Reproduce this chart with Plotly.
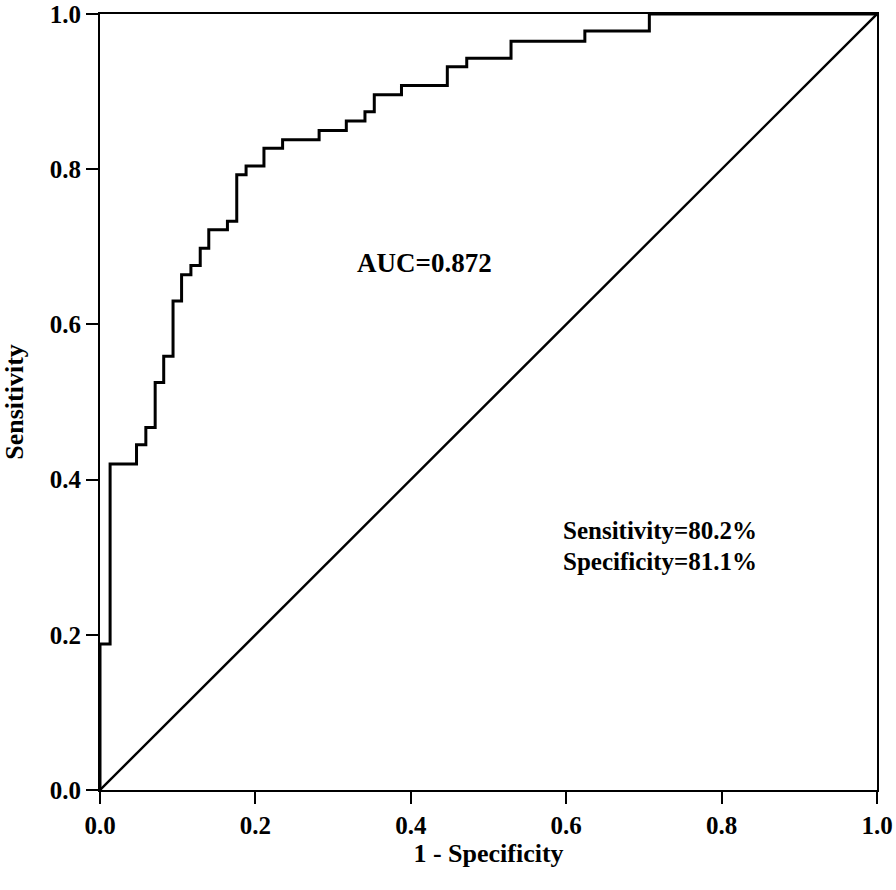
import plotly.graph_objects as go

# ROC staircase corners (1 - specificity, sensitivity)
fpr = [0, 0.013, 0.047, 0.059, 0.071, 0.082, 0.094, 0.105, 0.117, 0.129, 0.140,
       0.164, 0.176, 0.188, 0.211, 0.235, 0.282, 0.317, 0.341, 0.353, 0.388,
       0.447, 0.472, 0.529, 0.624, 0.707, 1.0]
tpr = [0, 0.188, 0.420, 0.445, 0.467, 0.525, 0.559, 0.630, 0.664, 0.676, 0.698,
       0.722, 0.733, 0.793, 0.804, 0.827, 0.838, 0.850, 0.862, 0.874, 0.896,
       0.908, 0.932, 0.943, 0.965, 0.978, 1.0]
ref_x = [0, 1]
ref_y = [0, 1]
tick_vals = [0, 0.2, 0.4, 0.6, 0.8, 1.0]
tick_text = ["0.0", "0.2", "0.4", "0.6", "0.8", "1.0"]
auc_text = "AUC=0.872"
sens_text = "Sensitivity=80.2%"
spec_text = "Specificity=81.1%"

FONT = "Liberation Serif"

fig = go.Figure()
fig.add_trace(go.Scatter(x=fpr, y=tpr, mode="lines", line=dict(color="black", width=3, shape="vh"),
                         showlegend=False, hoverinfo="skip", cliponaxis=False))
fig.add_trace(go.Scatter(x=ref_x, y=ref_y, mode="lines", line=dict(color="black", width=2.4),
                         showlegend=False, hoverinfo="skip"))

axis_common = dict(range=[0, 1], tickvals=tick_vals, ticktext=["<b>" + t + "</b>" for t in tick_text],
                   ticks="outside", ticklen=12, tickwidth=2, tickcolor="black", showline=True,
                   linecolor="black", linewidth=2, mirror=True, showgrid=False, zeroline=False,
                   tickfont=dict(family=FONT, size=25, color="black"), automargin=False,
                   ticklabeloverflow="allow")

fig.update_layout(
    width=896, height=890,
    margin=dict(l=100, r=19, t=14, b=100),
    paper_bgcolor="white", plot_bgcolor="white",
    xaxis=dict(**axis_common, title=dict(text="<b>1 - Specificity</b>",
               font=dict(family=FONT, size=26, color="black"), standoff=4)),
    yaxis=dict(**axis_common, title=dict(text="<b>Sensitivity</b>",
               font=dict(family=FONT, size=26, color="black"), standoff=20)),
    annotations=[
        dict(x=0.417, y=0.679, xref="x", yref="y", text="<b>" + auc_text + "</b>", showarrow=False,
             font=dict(family=FONT, size=27, color="black")),
        dict(x=0.721, y=0.334, xref="x", yref="y", text="<b>" + sens_text + "</b>", showarrow=False,
             font=dict(family=FONT, size=25, color="black")),
        dict(x=0.721, y=0.294, xref="x", yref="y", text="<b>" + spec_text + "</b>", showarrow=False,
             font=dict(family=FONT, size=25, color="black")),
    ],
)

fig.write_html("out.html", config={"displayModeBar": False},
               post_script="document.body.style.margin='0';")
